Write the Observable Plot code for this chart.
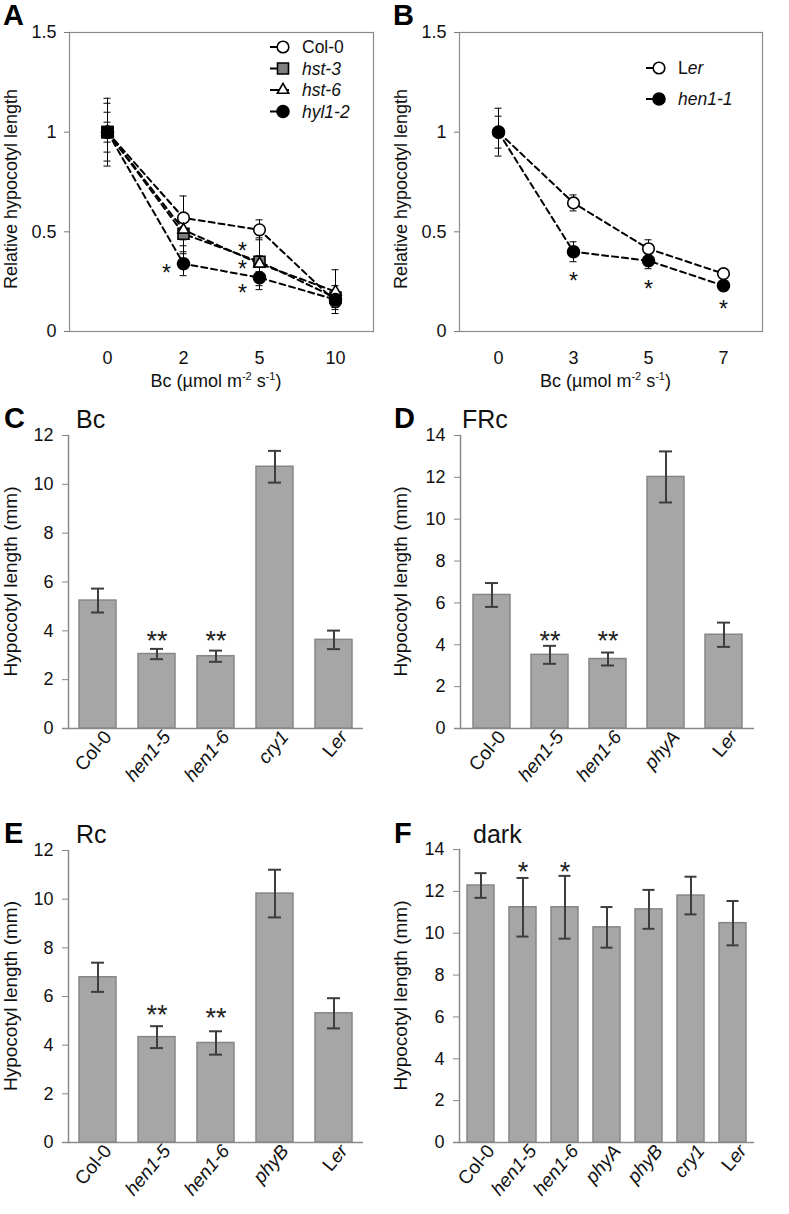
<!DOCTYPE html>
<html><head><meta charset="utf-8">
<script src="https://cdn.jsdelivr.net/npm/d3@7"></script>
<script src="https://cdn.jsdelivr.net/npm/@observablehq/plot@0.6"></script>
<style>
body{margin:0;background:#fff;}
#root{position:relative;width:789px;height:1214px;font-family:"Liberation Sans",Arial,Helvetica,sans-serif;}
.panel{position:absolute;}
svg{overflow:visible;}
</style></head><body><div id="root"></div>
<script>
const FONT = '"Liberation Sans", Arial, Helvetica, sans-serif';

// ---------- Panel A data ----------
const dosesA = ["0", "2", "5", "10"];
const genotypesA = ["Col-0", "hst-3", "hst-6", "hyl1-2"];
const col0A = [1.00, 0.57, 0.51, 0.15];
const col0AErr = [0.17, 0.11, 0.05, 0.03];
const hst3A = [1.00, 0.49, 0.35, 0.17];
const hst3AErr = [0.145, 0.10, 0.12, 0.06];
const hst6A = [1.00, 0.51, 0.34, 0.20];
const hst6AErr = [0.10, 0.08, 0.04, 0.11];
const hyl12A = [1.00, 0.34, 0.27, 0.16];
const hyl12AErr = [0.05, 0.06, 0.06, 0.03];
const starDosesA = ["2", "5", "5", "5"];
const starYA = [0.32, 0.43, 0.34, 0.22];

// ---------- Panel B data ----------
const dosesB = ["0", "3", "5", "7"];
const genotypesB = ["Ler", "hen1-1"];
const lerB = [1.00, 0.645, 0.415, 0.29];
const lerBErr = [0.08, 0.04, 0.045, 0.02];
const hen11B = [1.00, 0.40, 0.355, 0.23];
const hen11BErr = [0.12, 0.05, 0.04, 0.02];
const starDosesB = ["3", "5", "7"];
const starYB = [0.28, 0.24, 0.14];

// ---------- Panel C (Bc) ----------
const catsC = ["Col-0", "hen1-5", "hen1-6", "cry1", "Ler"];
const valsC = [5.24, 3.05, 2.96, 10.72, 3.63];
const errsC = [0.49, 0.21, 0.23, 0.65, 0.38];
const starsC = ["", "**", "**", "", ""];
const starYC = [0, 3.9, 3.9, 0, 0];

// ---------- Panel D (FRc) ----------
const catsD = ["Col-0", "hen1-5", "hen1-6", "phyA", "Ler"];
const valsD = [6.38, 3.52, 3.32, 12.02, 4.48];
const errsD = [0.57, 0.43, 0.31, 1.22, 0.58];
const starsD = ["", "**", "**", "", ""];
const starYD = [0, 4.55, 4.55, 0, 0];

// ---------- Panel E (Rc) ----------
const catsE = ["Col-0", "hen1-5", "hen1-6", "phyB", "Ler"];
const valsE = [6.79, 4.33, 4.09, 10.23, 5.31];
const errsE = [0.60, 0.45, 0.48, 0.98, 0.62];
const starsE = ["", "**", "**", "", ""];
const starYE = [0, 5.56, 5.45, 0, 0];

// ---------- Panel F (dark) ----------
const catsF = ["Col-0", "hen1-5", "hen1-6", "phyA", "phyB", "cry1", "Ler"];
const valsF = [12.28, 11.24, 11.24, 10.28, 11.14, 11.80, 10.48];
const errsF = [0.59, 1.40, 1.50, 0.97, 0.93, 0.90, 1.06];
const starsF = ["", "*", "*", "", "", "", ""];
const starYF = [0, 13.3, 13.3, 0, 0, 0, 0];

// ---------- styles ----------
const markerStyle = {
  "Col-0":  {symbol: "circle",   fill: "white",   r: 5.8},
  "hst-3":  {symbol: "square",   fill: "#7f7f7f", r: 6.2},
  "hst-6":  {symbol: "triangle", fill: "white",   r: 4.2},
  "hyl1-2": {symbol: "circle",   fill: "black",   r: 6},
  "Ler":    {symbol: "circle",   fill: "white",   r: 5.8},
  "hen1-1": {symbol: "circle",   fill: "black",   r: 6}
};
const italicNames = new Set(["hst-3", "hst-6", "hyl1-2", "hen1-1", "hen1-5", "hen1-6", "cry1", "phyA", "phyB"]);

const root = document.getElementById("root");
function place(svg, left, top) {
  const d = document.createElement("div");
  d.className = "panel";
  d.style.left = left + "px";
  d.style.top = top + "px";
  d.appendChild(svg);
  root.appendChild(d);
}

// write a genotype name with proper italics into a d3 text selection
function writeName(sel, name) {
  sel.text(null);
  if (name === "Ler") {
    sel.append("tspan").text("L");
    sel.append("tspan").attr("font-style", "italic").text("er");
  } else if (italicNames.has(name)) {
    sel.append("tspan").attr("font-style", "italic").text(name);
  } else {
    sel.append("tspan").text(name);
  }
}

function addText(svg, x, y, text, opts = {}) {
  const t = d3.select(svg).append("text")
    .attr("x", x).attr("y", y)
    .attr("font-family", FONT)
    .attr("font-size", opts.size || 16)
    .attr("font-weight", opts.weight || "normal")
    .attr("text-anchor", opts.anchor || "start")
    .attr("fill", opts.fill || "#111");
  if (opts.rotate) t.attr("transform", `rotate(${opts.rotate},${x},${y})`);
  t.text(text);
  return t;
}

function setTickFont(svg, size) {
  d3.select(svg).selectAll('g[aria-label$="tick label"]').attr("font-size", size);
}

// ---------- line panels ----------
function linePanel(cfg) {
  const rows = cfg.genotypes.flatMap((g, gi) => cfg.doses.map((d, i) => ({
    genotype: g, dose: d, value: cfg.vals[gi][i], err: cfg.errs[gi][i]
  })));
  const stars = cfg.starDoses.map((d, i) => ({dose: d, y: cfg.starY[i]}));
  const capStyle = {stroke: "black", strokeWidth: 1, insetLeft: -3.5, insetRight: -3.5};
  const dotMarks = cfg.genotypes.map(g => Plot.dot(rows.filter(r => r.genotype === g), {
    x: "dose", y: "value", symbol: markerStyle[g].symbol, r: markerStyle[g].r,
    fill: markerStyle[g].fill, stroke: "black", strokeWidth: 1.6
  }));
  const svg = Plot.plot({
    width: cfg.width, height: 390,
    marginLeft: 69, marginRight: cfg.width - cfg.plotRight, marginTop: 32, marginBottom: 59,
    style: {fontFamily: FONT, fontSize: "18px", background: "transparent", color: "#111", overflow: "visible"},
    x: {type: "point", domain: cfg.doses, padding: 0.5},
    y: {domain: [0, 1.5]},
    marks: [
      Plot.frame({stroke: "#8c8c8c", strokeWidth: 1.2}),
      Plot.axisY({ticks: [0, 0.5, 1, 1.5], tickFormat: d => String(d), tickSize: 5, tickPadding: 8,
        stroke: "#777", label: null}),
      Plot.axisX({tickSize: 0, tickPadding: 20, label: null}),
      Plot.line(rows, {x: "dose", y: "value", z: "genotype", stroke: "black", strokeWidth: 2,
        strokeDasharray: "6,4"}),
      Plot.ruleX(rows, {x: "dose", y1: d => d.value - d.err, y2: d => d.value + d.err, stroke: "black", strokeWidth: 1}),
      Plot.ruleY(rows, {y: d => d.value + d.err, x1: "dose", x2: "dose", ...capStyle}),
      Plot.ruleY(rows, {y: d => d.value - d.err, x1: "dose", x2: "dose", ...capStyle}),
      ...dotMarks,
      ...(cfg.extraMarks ? cfg.extraMarks(rows) : []),
      Plot.text(stars, {x: "dose", y: "y", text: () => "*", fontSize: 23, dx: cfg.starDx, dy: 6, fill: "#111"})
    ]
  });
  setTickFont(svg, 18);
  // axis titles
  const cx = (69 + cfg.plotRight) / 2;
  addText(svg, 17, 189, "Relative hypocotyl length", {size: 18, anchor: "middle", rotate: -90});
  const xl = addText(svg, cx - 5, 387, null, {size: 18, anchor: "middle"});
  xl.text(null);
  xl.append("tspan").text("Bc (µmol m");
  xl.append("tspan").attr("font-size", 11).attr("dy", -7).text("-2");
  xl.append("tspan").attr("dy", 7).text(" s");
  xl.append("tspan").attr("font-size", 11).attr("dy", -7).text("-1");
  xl.append("tspan").attr("dy", 7).text(")");
  // panel letter
  addText(svg, 3, 25, cfg.letter, {size: 29, weight: "bold", fill: "#000"});
  // legend
  const g = d3.select(svg).append("g");
  cfg.genotypes.forEach((name, i) => {
    const y = cfg.legendY[i];
    const st = markerStyle[name];
    g.append("line").attr("x1", cfg.legendX - 13).attr("x2", cfg.legendX + 6)
      .attr("y1", y).attr("y2", y).attr("stroke", "black").attr("stroke-width", 2);
    const sym = {circle: d3.symbolCircle, square: d3.symbolSquare, triangle: d3.symbolTriangle}[st.symbol];
    g.append("path").attr("transform", `translate(${cfg.legendX},${y})`)
      .attr("d", d3.symbol(sym, Math.PI * st.r * st.r)())
      .attr("fill", st.fill).attr("stroke", "black").attr("stroke-width", 1.6);
    const t = g.append("text").attr("x", cfg.legendX + 19).attr("y", y + 6)
      .attr("text-anchor", "start")
      .attr("font-family", FONT).attr("font-size", 17.5).attr("fill", "#111");
    writeName(t, name);
  });
  return svg;
}

const svgA = linePanel({
  width: 390, plotRight: 373, letter: "A",
  doses: dosesA, genotypes: genotypesA,
  vals: [col0A, hst3A, hst6A, hyl12A], errs: [col0AErr, hst3AErr, hst6AErr, hyl12AErr],
  starDoses: starDosesA, starY: starYA, starDx: -17,
  legendX: 283, legendY: [47, 68.5, 90, 111.5],
  extraMarks: rows => [Plot.dot(rows.filter(r => r.genotype === "hst-3" && r.dose === "0"),
    {x: "dose", y: "value", symbol: "square", r: 6.2, fill: "black", stroke: "black", strokeWidth: 1.6})]
});
place(svgA, 0, 0);

const svgB = linePanel({
  width: 399, plotRight: 372, letter: "B",
  doses: dosesB, genotypes: genotypesB,
  vals: [lerB, hen11B], errs: [lerBErr, hen11BErr],
  starDoses: starDosesB, starY: starYB, starDx: 0,
  legendX: 269, legendY: [68, 99]
});
place(svgB, 390, 0);

// ---------- bar panels ----------
function barPanel(cfg) {
  const rows = cfg.cats.map((c, i) => ({cat: c, v: cfg.vals[i], e: cfg.errs[i]}));
  const starRows = cfg.cats.map((c, i) => ({cat: c, y: cfg.starY[i], s: cfg.stars[i]})).filter(d => d.s);
  const pad = cfg.pad;
  const errColor = "#3d3d3d";
  const svg = Plot.plot({
    width: cfg.width, height: cfg.height,
    marginLeft: cfg.ml, marginRight: cfg.mr, marginTop: cfg.mt, marginBottom: cfg.mb,
    style: {fontFamily: FONT, fontSize: "18px", background: "transparent", color: "#111", overflow: "visible"},
    x: {domain: cfg.cats, paddingInner: pad, paddingOuter: pad / 2},
    y: {domain: [0, cfg.ymax]},
    marks: [
      Plot.barY(rows, {x: "cat", y: "v", fill: "#a6a6a6", stroke: "#868686", strokeWidth: 1.5}),
      Plot.ruleX(rows, {x: "cat", y1: d => d.v - d.e, y2: d => d.v + d.e, stroke: errColor, strokeWidth: 2}),
      Plot.tickY(rows, {x: "cat", y: d => d.v + d.e, inset: cfg.capInset, stroke: errColor, strokeWidth: 2}),
      Plot.tickY(rows, {x: "cat", y: d => d.v - d.e, inset: cfg.capInset, stroke: errColor, strokeWidth: 2}),
      Plot.text(starRows, {x: "cat", y: "y", text: "s", fontSize: 27, dy: 8, fill: "#222"}),
      Plot.axisY({ticks: d3.range(0, cfg.ymax + 0.1, 2), tickSize: 6, tickPadding: 9,
        stroke: "#888", label: null}),
      Plot.axisX({tickSize: 0, tickPadding: 5, tickRotate: -50, dx: 10, label: null}),
      Plot.ruleY([0], {stroke: "#8a8a8a", strokeWidth: 1.5, insetLeft: -6}),
      Plot.frame({anchor: "left", stroke: "#8a8a8a", strokeWidth: 1.5})
    ]
  });
  setTickFont(svg, 18);
  d3.select(svg).selectAll('g[aria-label="x-axis tick label"]').attr("font-size", 19);
  // italicize genotype tick labels
  d3.select(svg).selectAll('g[aria-label="x-axis tick label"] text').each(function () {
    const name = this.textContent;
    writeName(d3.select(this), name);
  });
  const midY = cfg.mt + (cfg.height - cfg.mt - cfg.mb) / 2;
  addText(svg, 17, midY, "Hypocotyl length (mm)", {size: 19, anchor: "middle", rotate: -90});
  addText(svg, 4, cfg.titleY, cfg.letter, {size: 29, weight: "bold", fill: "#000"});
  addText(svg, cfg.titleX, cfg.titleY, cfg.title, {size: 25, fill: "#111"});
  return svg;
}

place(barPanel({cats: catsC, vals: valsC, errs: errsC, stars: starsC, starY: starYC, ymax: 12,
  width: 390, height: 400, ml: 68, mr: 27, mt: 35, mb: 72, pad: 0.37, capInset: 12,
  letter: "C", title: "Bc", titleX: 76, titleY: 28}), 0, 400);

place(barPanel({cats: catsD, vals: valsD, errs: errsD, stars: starsD, starY: starYD, ymax: 14,
  width: 399, height: 400, ml: 70, mr: 35, mt: 35, mb: 72, pad: 0.37, capInset: 12,
  letter: "D", title: "FRc", titleX: 72, titleY: 28}), 390, 400);

place(barPanel({cats: catsE, vals: valsE, errs: errsE, stars: starsE, starY: starYE, ymax: 12,
  width: 390, height: 409, ml: 68, mr: 27, mt: 45, mb: 72, pad: 0.37, capInset: 12,
  letter: "E", title: "Rc", titleX: 76, titleY: 38}), 0, 805);

place(barPanel({cats: catsF, vals: valsF, errs: errsF, stars: starsF, starY: starYF, ymax: 14,
  width: 399, height: 409, ml: 69, mr: 35, mt: 44, mb: 72, pad: 0.36, capInset: 7.5,
  letter: "F", title: "dark", titleX: 83, titleY: 38}), 390, 805);
</script></body></html>
